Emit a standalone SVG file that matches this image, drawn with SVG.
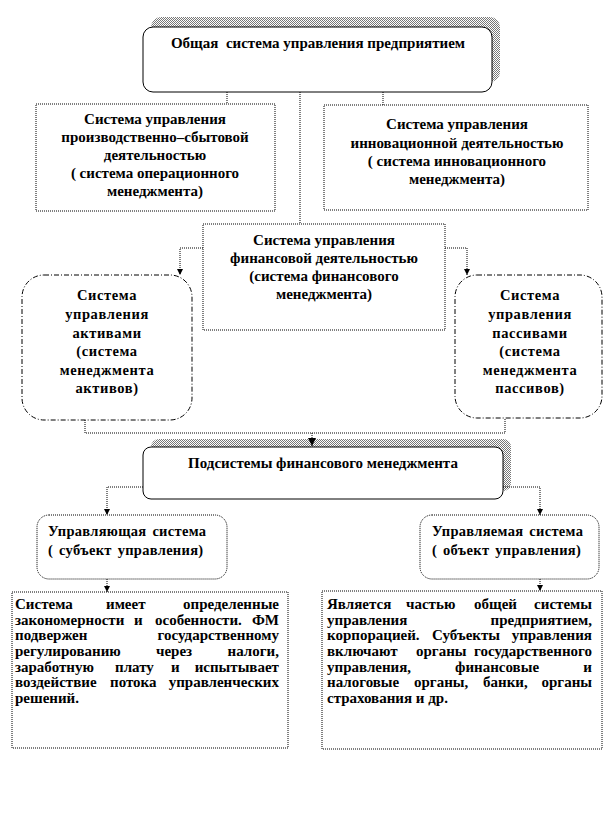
<svg xmlns="http://www.w3.org/2000/svg" width="612" height="828" viewBox="0 0 612 828">
<defs>
<style>
.t{font-family:"Liberation Serif","Times New Roman",serif;font-weight:bold;fill:#000}
.h{font-size:15px;text-anchor:middle}
.r{font-size:14.5px;text-anchor:middle;letter-spacing:0.6px}
.s{font-size:14.5px;letter-spacing:0.3px;word-spacing:2px}
.b{font-size:15px}
.e{text-anchor:end}
.dot{fill:#fff;stroke:#000;stroke-width:1;stroke-dasharray:1 1}
.sol{fill:#fff;stroke:#000;stroke-width:1}
.dd{fill:#fff;stroke:#000;stroke-width:1;stroke-dasharray:5 2 1 2}
.c{fill:none;stroke:#000;stroke-width:1;stroke-dasharray:1 1}
.sh{fill:url(#hatch);stroke:none}
</style>
<pattern id="hatch" width="2" height="2" patternUnits="userSpaceOnUse">
<rect width="2" height="2" fill="#fff"/>
<rect x="0" y="0" width="1" height="1" fill="#777"/>
<rect x="1" y="1" width="1" height="1" fill="#777"/>
</pattern>
<marker id="arr" viewBox="0 0 6 6" refX="6" refY="3" markerWidth="6" markerHeight="6" markerUnits="userSpaceOnUse" orient="auto">
<path d="M0,0 L6,3 L0,6 z" fill="#000"/>
</marker>
<marker id="arrb" viewBox="0 0 8 8" refX="8" refY="4" markerWidth="8" markerHeight="8" markerUnits="userSpaceOnUse" orient="auto">
<path d="M0,0 L8,4 L0,8 z" fill="#000"/>
</marker>
</defs>
<rect width="612" height="828" fill="#fff"/>

<g id="top">
<rect class="sh" x="151" y="17" width="349" height="65" rx="10"/>
<rect class="sol" x="143" y="27" width="349" height="65" rx="10"/>
<text class="t h" x="318" y="48" xml:space="preserve">Общая  система управления предприятием</text>
</g>

<g id="production">
<rect class="dot" x="36" y="104" width="239" height="107"/>
<text class="t h" x="155"><tspan x="155" y="124">Система управления</tspan><tspan x="155" y="142">производственно–сбытовой</tspan><tspan x="155" y="160">деятельностью</tspan><tspan x="155" y="178">( система операционного</tspan><tspan x="155" y="196">менеджмента)</tspan></text>
</g>

<g id="innovation">
<rect class="dot" x="324" y="105" width="264" height="105"/>
<text class="t h" x="457"><tspan x="457" y="129">Система управления</tspan><tspan x="457" y="148">инновационной деятельностью</tspan><tspan x="457" y="166">( система инновационного</tspan><tspan x="457" y="184">менеджмента)</tspan></text>
</g>

<g id="finance">
<rect class="dot" x="203" y="224" width="242" height="106"/>
<text class="t h" x="324"><tspan x="324" y="245">Система управления</tspan><tspan x="324" y="263">финансовой деятельностью</tspan><tspan x="324" y="281">(система финансового</tspan><tspan x="324" y="299">менеджмента)</tspan></text>
</g>

<g id="assets">
<rect class="dd" x="22" y="275" width="170" height="145" rx="22"/>
<text class="t r" x="107"><tspan x="107" y="300">Система</tspan><tspan x="107" y="319">управления</tspan><tspan x="107" y="338">активами</tspan><tspan x="107" y="356">(система</tspan><tspan x="107" y="375">менеджмента</tspan><tspan x="107" y="393">активов)</tspan></text>
</g>

<g id="liabilities">
<rect class="dd" x="455" y="275" width="147" height="143" rx="22"/>
<text class="t r" x="530"><tspan x="530" y="300">Система</tspan><tspan x="530" y="319">управления</tspan><tspan x="530" y="338">пассивами</tspan><tspan x="530" y="356">(система</tspan><tspan x="530" y="375">менеджмента</tspan><tspan x="530" y="393">пассивов)</tspan></text>
</g>

<g id="subsystems">
<rect class="sh" x="151" y="439" width="360" height="52" rx="8"/>
<rect class="sol" x="143" y="447" width="360" height="52" rx="8"/>
<text class="t h" x="323" y="468">Подсистемы финансового менеджмента</text>
</g>

<g id="managing">
<rect class="dot" x="37" y="515" width="190" height="64" rx="12"/>
<text class="t s"><tspan x="48" y="536">Управляющая система</tspan><tspan x="48" y="555">( субъект управления)</tspan></text>
</g>

<g id="managed">
<rect class="dot" x="420" y="515" width="179" height="64" rx="12"/>
<text class="t s"><tspan x="432" y="536">Управляемая система</tspan><tspan x="432" y="555">( объект управления)</tspan></text>
</g>

<g id="managing-text">
<rect class="dot" x="12" y="592" width="276" height="156"/>
<text class="t b"><tspan x="15" y="609">Система</tspan><tspan x="106" y="609">имеет</tspan><tspan class="e" x="279" y="609">определенные</tspan></text>
<text class="t b"><tspan x="15" y="624.5">закономерности</tspan><tspan x="134" y="624.5">и</tspan><tspan x="155" y="624.5">особенности.</tspan><tspan class="e" x="279" y="624.5">ФМ</tspan></text>
<text class="t b"><tspan x="15" y="640">подвержен</tspan><tspan class="e" x="279" y="640">государственному</tspan></text>
<text class="t b"><tspan x="15" y="656">регулированию</tspan><tspan x="156" y="656">через</tspan><tspan class="e" x="279" y="656">налоги,</tspan></text>
<text class="t b"><tspan x="15" y="671.5">заработную</tspan><tspan x="115" y="671.5">плату</tspan><tspan x="171" y="671.5">и</tspan><tspan class="e" x="279" y="671.5">испытывает</tspan></text>
<text class="t b"><tspan x="15" y="687">воздействие</tspan><tspan x="110" y="687">потока</tspan><tspan class="e" x="279" y="687">управленческих</tspan></text>
<text class="t b" x="15" y="703">решений.</text>
</g>

<g id="managed-text">
<rect class="dot" x="322" y="591" width="280" height="158"/>
<text class="t b"><tspan x="327" y="609">Является</tspan><tspan x="406" y="609">частью</tspan><tspan x="474" y="609">общей</tspan><tspan class="e" x="592" y="609">системы</tspan></text>
<text class="t b"><tspan x="327" y="624.5">управления</tspan><tspan class="e" x="592" y="624.5">предприятием,</tspan></text>
<text class="t b"><tspan x="327" y="640">корпорацией.</tspan><tspan x="432" y="640">Субъекты</tspan><tspan class="e" x="592" y="640">управления</tspan></text>
<text class="t b"><tspan x="327" y="656">включают</tspan><tspan x="416" y="656">органы</tspan><tspan class="e" x="592" y="656">государственного</tspan></text>
<text class="t b"><tspan x="327" y="671.5">управления,</tspan><tspan x="455" y="671.5">финансовые</tspan><tspan class="e" x="592" y="671.5">и</tspan></text>
<text class="t b"><tspan x="327" y="687">налоговые</tspan><tspan x="414" y="687">органы,</tspan><tspan x="483" y="687">банки,</tspan><tspan class="e" x="592" y="687">органы</tspan></text>
<text class="t b" x="327" y="703">страхования и др.</text>
</g>

<g id="connectors">
<line class="c" x1="227" y1="92" x2="227" y2="104"/>
<line class="c" x1="383" y1="92" x2="383" y2="105"/>
<line class="c" x1="300" y1="92" x2="300" y2="224"/>
<polyline class="c" points="203,248 180,248 180,275" marker-end="url(#arr)"/>
<polyline class="c" points="445,248 467,248 467,275" marker-end="url(#arr)"/>
<polyline class="c" points="85,420 85,433 505,433 505,418"/>
<line class="c" x1="312" y1="433" x2="312" y2="446" marker-end="url(#arrb)"/>
<polyline class="c" points="143,487 107,487 107,515" marker-end="url(#arr)"/>
<polyline class="c" points="503,487 540,487 540,515" marker-end="url(#arr)"/>
<line class="c" x1="107" y1="579" x2="107" y2="592" marker-end="url(#arr)"/>
<line class="c" x1="540" y1="579" x2="540" y2="591" marker-end="url(#arr)"/>
</g>
</svg>
